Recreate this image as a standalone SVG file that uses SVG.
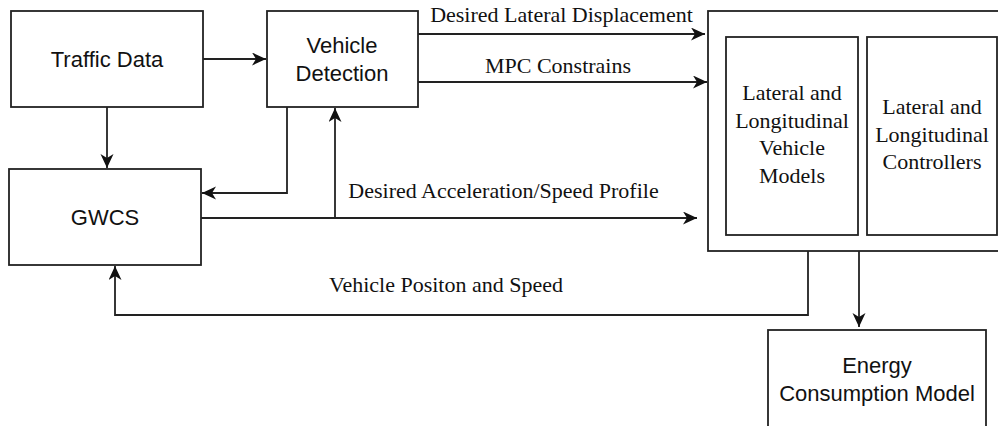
<svg xmlns="http://www.w3.org/2000/svg" width="998" height="426" viewBox="0 0 998 426">
<style>
.box{fill:#fff;stroke:#222;stroke-width:1.8}
.sans{font-family:"Liberation Sans",Arial,sans-serif;font-size:22px;fill:#111;text-anchor:middle}
.serif{font-family:"Liberation Serif","Times New Roman",serif;font-size:22px;fill:#111;text-anchor:middle}
.edge{fill:none;stroke:#222;stroke-width:1.8}
</style>
<defs>
<marker id="arr" markerUnits="userSpaceOnUse" markerWidth="16" markerHeight="14" refX="14" refY="6.5" orient="auto">
<path d="M0,0 L14,6.5 L0,13 L4,6.5 Z" fill="#111"/>
</marker>
</defs>
<rect width="998" height="426" fill="#fff"/>
<g id="traffic-data"><rect class="box" x="11" y="11" width="192" height="96"/><text class="sans" x="107" y="67">Traffic Data</text></g>
<g id="vehicle-detection"><rect class="box" x="267" y="11" width="151" height="96"/><text class="sans" x="342" y="53">Vehicle</text><text class="sans" x="342" y="81">Detection</text></g>
<g id="gwcs"><rect class="box" x="9" y="169" width="192" height="96"/><text class="sans" x="105" y="225">GWCS</text></g>
<g id="vehicle-system"><rect class="box" x="708" y="11" width="300" height="240"/>
<g id="vehicle-models"><rect class="box" x="726" y="37" width="132" height="198"/><text class="serif" x="792" y="100">Lateral and</text><text class="serif" x="792" y="127.5">Longitudinal</text><text class="serif" x="792" y="155">Vehicle</text><text class="serif" x="792" y="182.5">Models</text></g>
<g id="controllers"><rect class="box" x="867" y="37" width="130" height="198"/><text class="serif" x="932" y="114">Lateral and</text><text class="serif" x="932" y="141.5">Longitudinal</text><text class="serif" x="932" y="168.5">Controllers</text></g>
</g>
<g id="energy-model"><rect class="box" x="768" y="330" width="218" height="110"/><text class="sans" x="877" y="373">Energy</text><text class="sans" x="877" y="400.5">Consumption Model</text></g>
<g id="connectors">
<path class="edge" d="M203,59 H266" marker-end="url(#arr)"/>
<path class="edge" d="M107,107 V168" marker-end="url(#arr)"/>
<path class="edge" d="M287,107 V193 H202" marker-end="url(#arr)"/>
<path class="edge" d="M201,218 H697" marker-end="url(#arr)"/>
<path class="edge" d="M335,218 V108" marker-end="url(#arr)"/>
<path class="edge" d="M418,34 H705" marker-end="url(#arr)"/>
<path class="edge" d="M418,82 H707" marker-end="url(#arr)"/>
<path class="edge" d="M808,251 V315 H115 V266" marker-end="url(#arr)"/>
<path class="edge" d="M859,251 V327" marker-end="url(#arr)"/>
<text class="serif" x="561.5" y="21.5">Desired Lateral Displacement</text>
<text class="serif" x="558" y="72.5">MPC Constrains</text>
<text class="serif" x="503.5" y="198">Desired Acceleration/Speed Profile</text>
<text class="serif" x="446" y="291.5">Vehicle Positon and Speed</text>
</g>
</svg>
